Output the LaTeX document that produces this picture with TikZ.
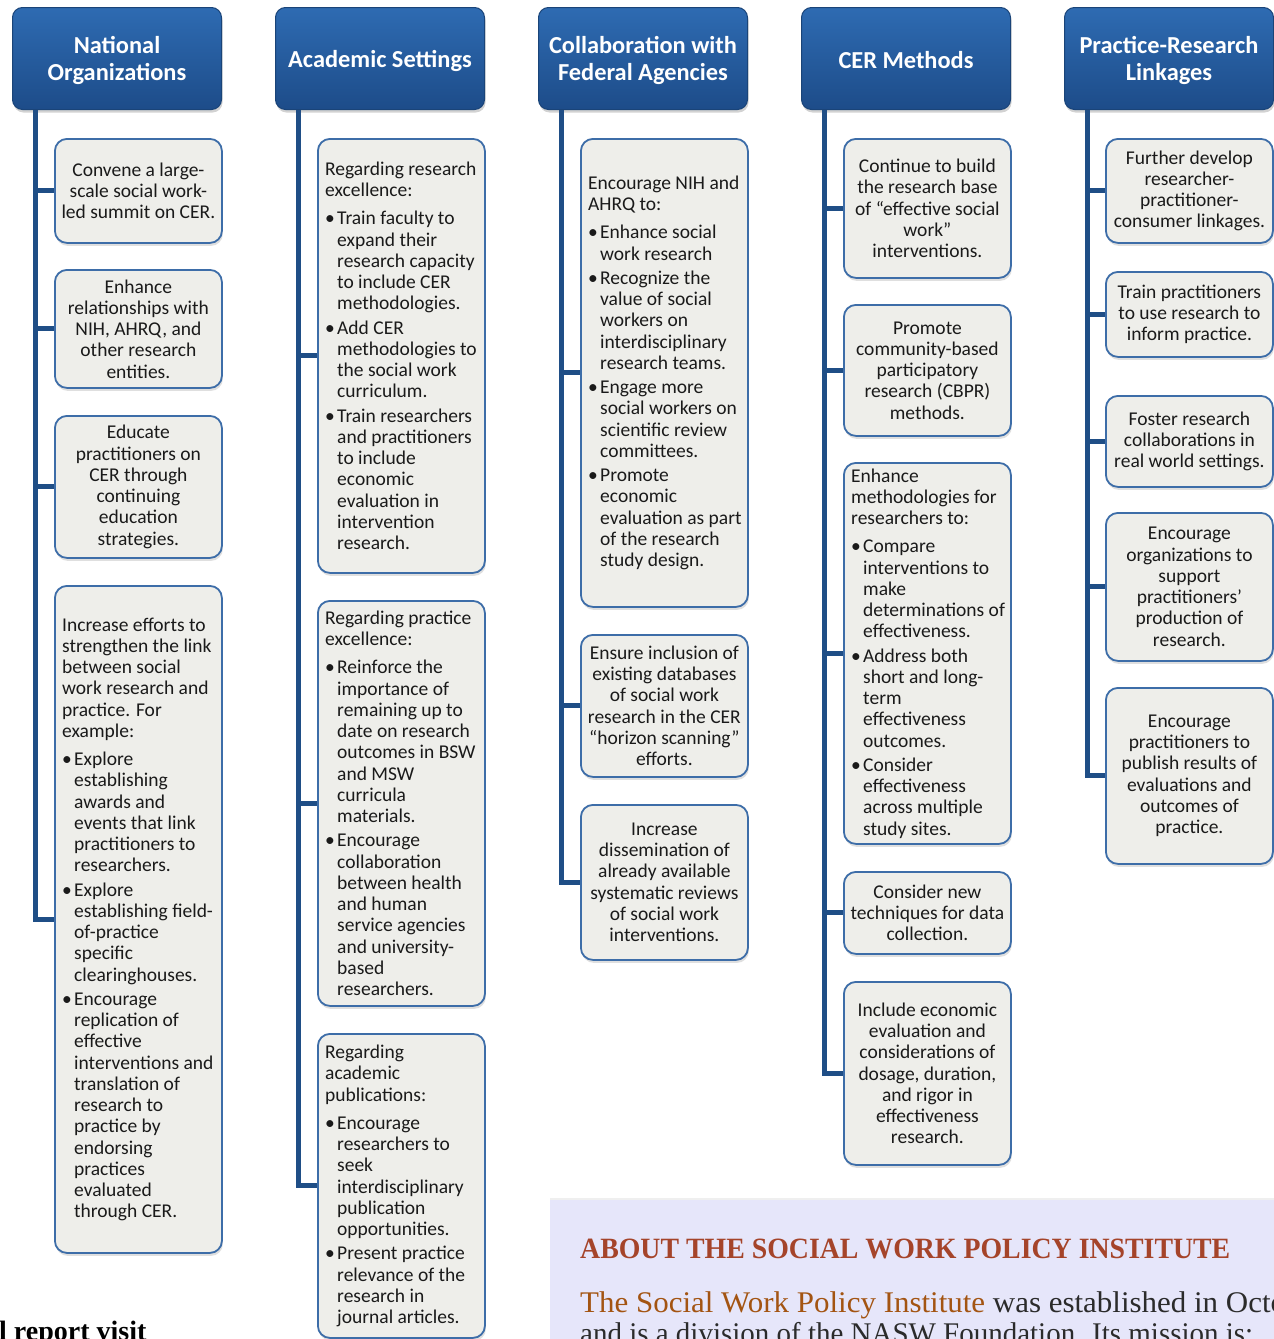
\documentclass[tikz,border=0pt]{standalone}
\usepackage{fontspec}
\usepackage{graphicx}
\setmainfont{Carlito}
\newfontfamily\swserif{Liberation Serif}
\usetikzlibrary{shadows}
\definecolor{hdtop}{HTML}{2E6BB2}
\definecolor{hdbot}{HTML}{1D4C89}
\definecolor{hdedge}{HTML}{1A4478}
\definecolor{trunkc}{HTML}{1F4E86}
\definecolor{boxedge}{HTML}{3D6DA8}
\definecolor{boxfill}{HTML}{EEEEEA}
\definecolor{boxtext}{HTML}{1A1A1A}
\definecolor{panelc}{HTML}{E6E6FA}
\definecolor{ttlc}{HTML}{A5442A}
\definecolor{nmc}{HTML}{A35412}
\definecolor{bodyc}{HTML}{2B2B2B}
\newcommand\bu{\makebox[12pt][l]{\textbullet}}
\newcommand\ct{\hspace*{12pt}}
\newlength\swlen
\newlength\swlenb
\AtBeginDocument{%
  \settowidth{\swlen}{\swserif\fontsize{30}{34}\selectfont The Social Work Policy Institute}%
  \settowidth{\swlenb}{\swserif\fontsize{30}{34}\selectfont and is a division of the NASW Foundation. Its mission is:}}
\tikzset{
  hdr/.style={rounded corners=10pt, top color=hdtop, bottom color=hdbot, draw=hdedge,
    line width=1pt, minimum width=209pt, minimum height=102pt, anchor=north west,
    drop shadow={opacity=0.35, shadow xshift=1pt, shadow yshift=-3pt}},
  htxt/.style={text=white, font=\fontsize{24.4}{27}\selectfont\bfseries, align=center, inner sep=0pt},
  cbox/.style={rounded corners=12pt, fill=boxfill, draw=boxedge, line width=1.8pt,
    minimum width=167pt, anchor=north west, inner sep=0pt,
    drop shadow={opacity=0.25, shadow xshift=1pt, shadow yshift=-3pt}},
  ctxt/.style={align=center, inner sep=0pt, text=boxtext, font=\fontsize{19.5}{21.25}\selectfont},
  ltxt/.style={align=left, anchor=west, inner sep=0pt, text=boxtext, font=\fontsize{19.5}{21.25}\selectfont},
  trunk/.style={draw=trunkc, line width=5pt},
}
\begin{document}
\begin{tikzpicture}[x=1pt,y=-1pt]
\useasboundingbox (0,0) rectangle (1274,1339);
\clip (0,0) rectangle (1274,1339);
\fill[white] (0,0) rectangle (1274,1339);
\pgfmathsetmacro\sxa{405/\swlen}
\pgfmathsetmacro\sxb{673/\swlenb}

% headers
\node[hdr] (h1) at (12,7) {};
\node[hdr] (h2) at (275,7) {};
\node[hdr] (h3) at (538,7) {};
\node[hdr] (h4) at (801,7) {};
\node[hdr] (h5) at (1064,7) {};
\node[htxt] (h1t) at ([yshift=-2pt]h1.center) {National\\Organizations};
\node[htxt] (h2t) at ([yshift=-2pt]h2.center) {Academic Settings};
\node[htxt] (h3t) at ([yshift=-2pt]h3.center) {Collaboration with\\Federal Agencies};
\node[htxt] (h4t) at ([yshift=-2pt]h4.center) {CER Methods};
\node[htxt] (h5t) at ([yshift=-2pt]h5.center) {Practice-Research\\Linkages};

% boxes column 1
\node[cbox, minimum height=104pt] (b11) at (54,138) {};
\node[cbox, minimum height=118pt] (b12) at (54,269) {};
\node[cbox, minimum height=142pt] (b13) at (54,415) {};
\node[cbox, minimum height=667pt] (b14) at (54,585) {};
% column 2
\node[cbox, minimum height=434pt] (b21) at (317,138) {};
\node[cbox, minimum height=405pt] (b22) at (317,600) {};
\node[cbox, minimum height=304pt] (b23) at (317,1033) {};
% column 3
\node[cbox, minimum height=468pt] (b31) at (580,138) {};
\node[cbox, minimum height=142pt] (b32) at (580,634) {};
\node[cbox, minimum height=155pt] (b33) at (580,804) {};
% column 4
\node[cbox, minimum height=139pt] (b41) at (843,138) {};
\node[cbox, minimum height=131pt] (b42) at (843,304) {};
\node[cbox, minimum height=381pt] (b43) at (843,462) {};
\node[cbox, minimum height=82pt] (b44) at (843,871) {};
\node[cbox, minimum height=183pt] (b45) at (843,981) {};
% column 5
\node[cbox, minimum height=104pt] (b51) at (1105,138) {};
\node[cbox, minimum height=85pt] (b52) at (1105,271) {};
\node[cbox, minimum height=91pt] (b53) at (1105,395) {};
\node[cbox, minimum height=148pt] (b54) at (1105,512) {};
\node[cbox, minimum height=176pt] (b55) at (1105,687) {};

% trunks
\coordinate (t1) at ([xshift=23pt]h1.south west);
\coordinate (t2) at ([xshift=23pt]h2.south west);
\coordinate (t3) at ([xshift=23pt]h3.south west);
\coordinate (t4) at ([xshift=23pt]h4.south west);
\coordinate (t5) at ([xshift=23pt]h5.south west);
\draw[trunk] (t1) |- (b14.west);
\draw[trunk] (t1 |- b11.west) -- (b11.west);
\draw[trunk] (t1 |- b12.west) -- (b12.west);
\draw[trunk] (t1 |- b13.west) -- (b13.west);
\draw[trunk] (t2) |- (b23.west);
\draw[trunk] (t2 |- b21.west) -- (b21.west);
\draw[trunk] (t2 |- b22.west) -- (b22.west);
\draw[trunk] (t3) |- (b33.west);
\draw[trunk] (t3 |- b31.west) -- (b31.west);
\draw[trunk] (t3 |- b32.west) -- (b32.west);
\draw[trunk] (t4) |- (b45.west);
\draw[trunk] (t4 |- b41.west) -- (b41.west);
\draw[trunk] (t4 |- b42.west) -- (b42.west);
\draw[trunk] (t4 |- b43.west) -- (b43.west);
\draw[trunk] (t4 |- b44.west) -- (b44.west);
\draw[trunk] (t5) |- (b55.west);
\draw[trunk] (t5 |- b51.west) -- (b51.west);
\draw[trunk] (t5 |- b52.west) -- (b52.west);
\draw[trunk] (t5 |- b53.west) -- (b53.west);
\draw[trunk] (t5 |- b54.west) -- (b54.west);

% texts column 1
\node[ctxt] (b11t) at (b11.center) {Convene a large-\\scale social work-\\led summit on CER.};
\node[ctxt] (b12t) at (b12.center) {Enhance\\relationships with\\NIH, AHRQ, and\\other research\\entities.};
\node[ctxt] (b13t) at (b13.center) {Educate\\practitioners on\\CER through\\continuing\\education\\strategies.};
\node[ltxt] (b14t) at ([xshift=8pt]b14.west) {Increase efforts to\\strengthen the link\\between social\\work research and\\practice. For\\example:\\[7pt]
\bu Explore\\\ct establishing\\\ct awards and\\\ct events that link\\\ct practitioners to\\\ct researchers.\\[3pt]
\bu Explore\\\ct establishing field-\\\ct of-practice\\\ct specific\\\ct clearinghouses.\\[3pt]
\bu Encourage\\\ct replication of\\\ct effective\\\ct interventions and\\\ct translation of\\\ct research to\\\ct practice by\\\ct endorsing\\\ct practices\\\ct evaluated\\\ct through CER.};

% column 2
\node[ltxt] (b21t) at ([xshift=8pt]b21.west) {Regarding research\\excellence:\\[7pt]
\bu Train faculty to\\\ct expand their\\\ct research capacity\\\ct to include CER\\\ct methodologies.\\[3pt]
\bu Add CER\\\ct methodologies to\\\ct the social work\\\ct curriculum.\\[3pt]
\bu Train researchers\\\ct and practitioners\\\ct to include\\\ct economic\\\ct evaluation in\\\ct intervention\\\ct research.};
\node[ltxt] (b22t) at ([xshift=8pt]b22.west) {Regarding practice\\excellence:\\[7pt]
\bu Reinforce the\\\ct importance of\\\ct remaining up to\\\ct date on research\\\ct outcomes in BSW\\\ct and MSW\\\ct curricula\\\ct materials.\\[3pt]
\bu Encourage\\\ct collaboration\\\ct between health\\\ct and human\\\ct service agencies\\\ct and university-\\\ct based\\\ct researchers.};
\node[ltxt] (b23t) at ([xshift=8pt]b23.west) {Regarding\\academic\\publications:\\[7pt]
\bu Encourage\\\ct researchers to\\\ct seek\\\ct interdisciplinary\\\ct publication\\\ct opportunities.\\[3pt]
\bu Present practice\\\ct relevance of the\\\ct research in\\\ct journal articles.};

% column 3
\node[ltxt] (b31t) at ([xshift=8pt]b31.west) {Encourage NIH and\\AHRQ to:\\[7pt]
\bu Enhance social\\\ct work research\\[3pt]
\bu Recognize the\\\ct value of social\\\ct workers on\\\ct interdisciplinary\\\ct research teams.\\[3pt]
\bu Engage more\\\ct social workers on\\\ct scientific review\\\ct committees.\\[3pt]
\bu Promote\\\ct economic\\\ct evaluation as part\\\ct of the research\\\ct study design.};
\node[ctxt] (b32t) at (b32.center) {Ensure inclusion of\\existing databases\\of social work\\research in the CER\\“horizon scanning”\\efforts.};
\node[ctxt] (b33t) at (b33.center) {Increase\\dissemination of\\already available\\systematic reviews\\of social work\\interventions.};

% column 4
\node[ctxt] (b41t) at (b41.center) {Continue to build\\the research base\\of “effective social\\work”\\interventions.};
\node[ctxt] (b42t) at (b42.center) {Promote\\community-based\\participatory\\research (CBPR)\\methods.};
\node[ltxt] (b43t) at ([xshift=8pt]b43.west) {Enhance\\methodologies for\\researchers to:\\[7pt]
\bu Compare\\\ct interventions to\\\ct make\\\ct determinations of\\\ct effectiveness.\\[3pt]
\bu Address both\\\ct short and long-\\\ct term\\\ct effectiveness\\\ct outcomes.\\[3pt]
\bu Consider\\\ct effectiveness\\\ct across multiple\\\ct study sites.};
\node[ctxt] (b44t) at (b44.center) {Consider new\\techniques for data\\collection.};
\node[ctxt] (b45t) at (b45.center) {Include economic\\evaluation and\\considerations of\\dosage, duration,\\and rigor in\\effectiveness\\research.};

% column 5
\node[ctxt] (b51t) at (b51.center) {Further develop\\researcher-\\practitioner-\\consumer linkages.};
\node[ctxt] (b52t) at (b52.center) {Train practitioners\\to use research to\\inform practice.};
\node[ctxt] (b53t) at (b53.center) {Foster research\\collaborations in\\real world settings.};
\node[ctxt] (b54t) at (b54.center) {Encourage\\organizations to\\support\\practitioners’\\production of\\research.};
\node[ctxt] (b55t) at (b55.center) {Encourage\\practitioners to\\publish results of\\evaluations and\\outcomes of\\practice.};

% bottom panel
\node[fill=panelc, minimum width=740pt, minimum height=160pt, anchor=north west, inner sep=0pt,
  drop shadow={opacity=0.12, shadow xshift=0pt, shadow yshift=2pt}] (panel) at (550,1200) {};
\node[anchor=base west, inner sep=0pt, text=ttlc] (ttl) at (580,1258)
  {\resizebox{650pt}{19.5pt}{\swserif\bfseries ABOUT THE SOCIAL WORK POLICY INSTITUTE}};
\node[anchor=base west, inner sep=0pt, text=bodyc] (line2) at (580,1312)
  {\scalebox{\sxa}[1]{\swserif\fontsize{30}{34}\selectfont\textcolor{nmc}{The Social Work Policy Institute} was established in October 2009}};
\node[anchor=base west, inner sep=0pt, text=bodyc] (line3) at (580,1343)
  {\scalebox{\sxb}[1]{\swserif\fontsize{30}{34}\selectfont and is a division of the NASW Foundation. Its mission is:}};
\node[anchor=base west, inner sep=0pt, text=black] (lefttxt) at (-1,1340)
  {\swserif\bfseries\fontsize{28}{32}\selectfont l report visit};
\end{tikzpicture}
\end{document}
